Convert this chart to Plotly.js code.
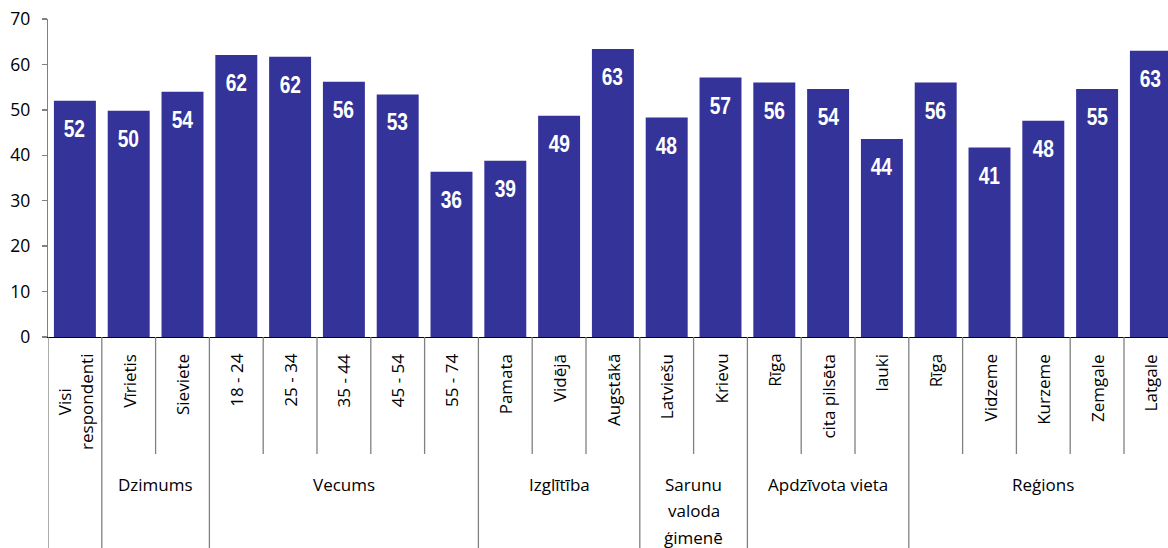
<!DOCTYPE html>
<html>
<head>
<meta charset="utf-8">
<script src="https://cdn.plot.ly/plotly-3.0.1.min.js"></script>
<style>html,body{margin:0;padding:0;background:#fff;}#chart{width:1168px;height:548px;}</style>
</head>
<body>
<div id="chart"></div>
<script>
var categories = ["Visi<br>respondenti","Vīrietis","Sieviete","18 - 24","25 - 34","35 - 44","45 - 54","55 - 74","Pamata","Vidējā","Augstākā","Latviešu","Krievu","Rīga","cita pilsēta","lauki","Rīga","Vidzeme","Kurzeme","Zemgale","Latgale"];
var values = [52.0, 49.8, 54.0, 62.1, 61.7, 56.2, 53.4, 36.4, 38.8, 48.7, 63.4, 48.3, 57.1, 56.0, 54.6, 43.6, 56.0, 41.7, 47.6, 54.6, 63.0];
var valueLabels = ["52","50","54","62","62","56","53","36","39","49","63","48","57","56","54","44","56","41","48","55","63"];
var groupNames = ["", "Dzimums", "Vecums", "Izglītība", "Sarunu<br>valoda<br>ģimenē", "Apdzīvota vieta", "Reģions"];
var groupSizes = [1, 2, 5, 3, 2, 3, 5];
var yTicks = [0, 10, 20, 30, 40, 50, 60, 70];

var W = 1168, H = 548, ML = 48, MT = 19, MB = 211, slot = 53.8;
var plotH = H - MT - MB;
var xIdx = categories.map(function(_, i){ return i; });
var xMax = -0.5 + (W - ML) / slot;

var annotations = [];
var shapes = [];
var labFont = {family: "Open Sans, Lato, sans-serif", size: 17, color: "#000"};

values.forEach(function(v, i){
  annotations.push({x: i, y: v, xref: "x", yref: "y", text: valueLabels[i], showarrow: false,
    yanchor: "top", yshift: -12,
    font: {family: "Liberation Sans, Arial, sans-serif", size: 24, color: "#fff", weight: "bold"}});
  annotations.push({x: i, y: 0, xref: "x", yref: "paper", text: categories[i], showarrow: false,
    textangle: -90, yanchor: "top", xanchor: "center", yshift: -15, align: "center", font: labFont});
});

var innerBottom = -(454 - (H - MB)) / plotH;
var outerBottom = -MB / plotH;
var start = 0;
groupSizes.forEach(function(n, g){
  shapes.push({type: "line", xref: "x", yref: "paper", x0: start - 0.5, x1: start - 0.5, y0: 0, y1: outerBottom,
    line: {color: "#808080", width: 1.3}});
  for (var k = 1; k < n; k++) {
    shapes.push({type: "line", xref: "x", yref: "paper", x0: start + k - 0.5, x1: start + k - 0.5, y0: 0, y1: innerBottom,
      line: {color: "#808080", width: 1.3}});
  }
  if (groupNames[g]) {
    groupNames[g].split("<br>").forEach(function(line, li){
      annotations.push({x: start + (n - 1) / 2, y: 0, xref: "x", yref: "paper", text: line, showarrow: false,
        yanchor: "middle", xanchor: "center", yshift: -(484 - (H - MB)) - 26.5 * li, align: "center", font: labFont});
    });
  }
  start += n;
});

var trace = {type: "bar", x: xIdx, y: values, marker: {color: "#333399"}, hoverinfo: "skip"};

var layout = {
  width: W, height: H,
  margin: {l: ML, r: 0, t: MT, b: MB, pad: 0},
  paper_bgcolor: "#fff", plot_bgcolor: "#fff",
  bargap: 0.22,
  showlegend: false,
  xaxis: {range: [-0.5, xMax], showticklabels: false, ticks: "", showgrid: false, zeroline: false,
    showline: true, linecolor: "#000", linewidth: 1.3, fixedrange: true},
  yaxis: {range: [0, 70], tickvals: yTicks, ticktext: yTicks.map(String), ticks: "outside", ticklen: 5,
    tickcolor: "#808080", tickwidth: 1.3, showline: true, linecolor: "#808080", linewidth: 1.3,
    showgrid: false, zeroline: false, tickfont: {family: "Open Sans, Lato, sans-serif", size: 17.5, color: "#000"}, ticklabelstandoff: 8},
  annotations: annotations,
  shapes: shapes
};

function condense(){
  var texts = document.querySelectorAll("#chart .annotation-text");
  texts.forEach(function(t){
    if (t.getAttribute("data-unformatted") && /^\d+$/.test(t.getAttribute("data-unformatted")) && t.style.fill && t.style.fill.indexOf("255") >= 0) {
      var x = parseFloat(t.getAttribute("x")) || 0;
      t.setAttribute("transform", "translate(" + x + ",0) scale(0.8,1) translate(" + (-x) + ",0)");
    }
  });
}

Plotly.newPlot("chart", [trace], layout, {displayModeBar: false, staticPlot: true}).then(condense);
</script>
</body>
</html>
